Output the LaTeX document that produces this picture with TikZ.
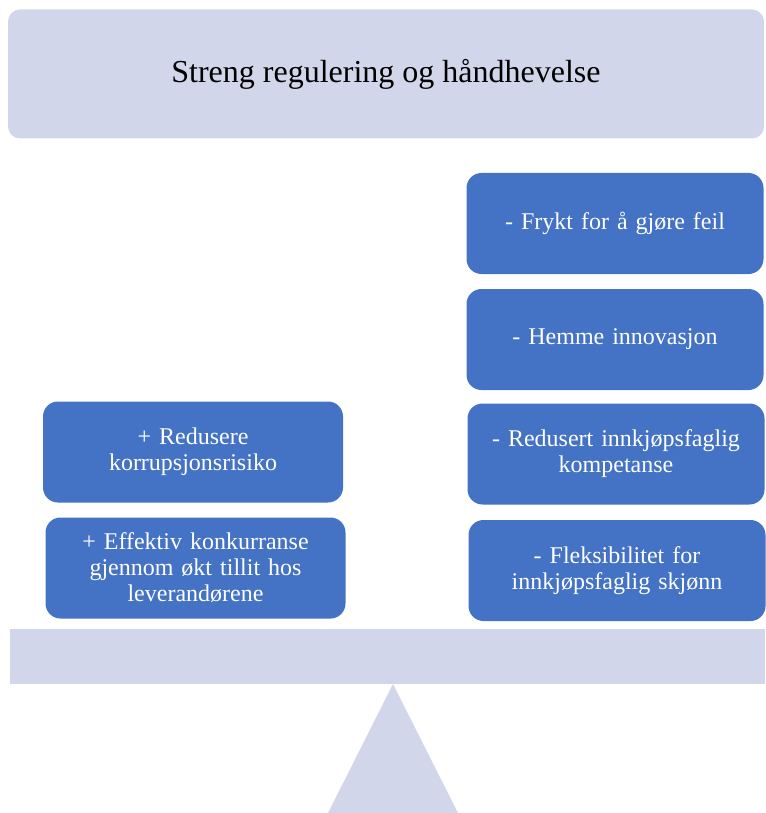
\documentclass[tikz,border=0pt]{standalone}
\usepackage{fontspec}
\setmainfont{Liberation Serif}
\definecolor{lysblaa}{HTML}{D1D6EA}
\definecolor{boksblaa}{HTML}{4472C4}

\begin{document}
\begin{tikzpicture}[
  x=1pt, y=-1pt,
  tittel/.style={fill=lysblaa, rounded corners=12pt, minimum width=756pt,
    minimum height=129pt, inner sep=0pt,
    font=\fontsize{32}{35}\selectfont},
  boks/.style={fill=boksblaa, rounded corners=15pt, text=white, align=center,
    minimum width=297pt, minimum height=101pt, inner sep=0pt, text width=285pt,
    font=\fontsize{24}{26}\selectfont},
  vekt/.style={fill=lysblaa},
]
\useasboundingbox (0,0) rectangle (765,813);

% --- Overskrift ---
\node[tittel] (tittel) at (386,74) {Streng regulering og håndhevelse};

% --- Fordeler (venstre side) ---
\node[boks, minimum width=300pt] (pluss1) at (193,452)
  {+ Redusere\\korrupsjonsrisiko};
\node[boks, minimum width=300pt] (pluss2) at (195.5,568)
  {+ Effektiv konkurranse\\gjennom økt tillit hos\\leverandørene};

% --- Ulemper (hoyre side) ---
\node[boks] (minus1) at (615,223.5) {- Frykt for å gjøre feil};
\node[boks] (minus2) at (615,339.5) {- Hemme innovasjon};
\node[boks] (minus3) at (616,454) {- Redusert innkjøpsfaglig\\kompetanse};
\node[boks] (minus4) at (617,570.5) {- Fleksibilitet for\\innkjøpsfaglig skjønn};

% --- Vektstang og understell ---
\fill[vekt] (10,629) rectangle (765,684);
\fill[vekt] (393,684) -- (458,813) -- (328,813) -- cycle;

\end{tikzpicture}
\end{document}
